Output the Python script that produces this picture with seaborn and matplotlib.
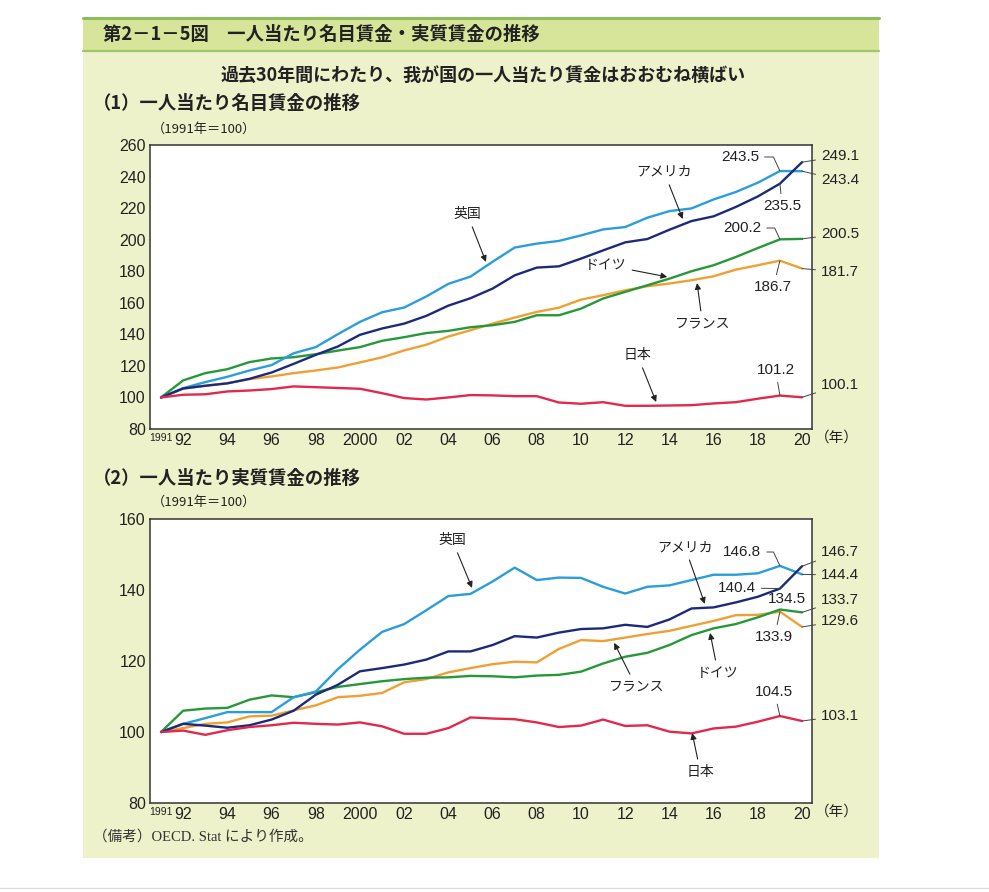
import matplotlib
matplotlib.use("Agg")
import matplotlib.pyplot as plt
from matplotlib.patches import Rectangle
from matplotlib.lines import Line2D
import seaborn as sns
import pandas as pd

# ---------------- data ----------------
years = list(range(1991, 2021))
countries = ["日本", "アメリカ", "英国", "ドイツ", "フランス"]

nominal_japan = [100, 101.7, 102, 103.8, 104.4, 105.3, 107, 106.5, 106, 105.5, 102.7, 99.6, 98.7, 100, 101.5,
                 101.3, 100.8, 100.8, 96.8, 96, 97, 94.7, 94.7, 94.9, 95.1, 96.2, 97, 99.2, 101.2, 100.1]
nominal_usa = [100, 105.7, 107.4, 108.9, 111.8, 115.8, 121.3, 127, 132.3, 139.7, 143.7, 146.8, 151.7, 158.2, 162.9,
               169, 177.4, 182.3, 183.1, 188, 193.2, 198.3, 200.4, 206.3, 211.8, 214.8, 220.7, 227.4, 235.5, 249.1]
nominal_uk = [100, 105.9, 109.7, 113.1, 117.1, 120.5, 128, 131.9, 140.1, 147.9, 154, 157, 164, 172, 176.6,
              186, 195, 197.5, 199.2, 202.7, 206.5, 208, 213.9, 218.1, 219.8, 225.5, 230.2, 236.1, 243.5, 243.4]
nominal_germany = [100, 110.8, 115.4, 117.9, 122.4, 124.7, 125.5, 127.4, 129.7, 131.9, 135.9, 138.2, 140.8, 142.2, 144.5,
                   145.8, 147.9, 152.1, 152.1, 156.3, 162.7, 166.9, 171.1, 175.3, 180, 183.8, 189, 194.7, 200.2, 200.5]
nominal_france = [100, 105.5, 107.4, 109.1, 111.6, 113.3, 115.4, 117.1, 119, 122.2, 125.4, 129.8, 133.4, 138.6, 142.6,
                  146.8, 150.6, 154.2, 156.9, 162, 164.8, 167.9, 170.5, 172.2, 174.3, 176.8, 181, 183.8, 186.7, 181.7]

real_japan = [100, 100.4, 99.2, 100.5, 101.4, 101.9, 102.6, 102.3, 102.1, 102.7, 101.6, 99.5, 99.5, 101.1, 104.1,
              103.8, 103.6, 102.7, 101.4, 101.8, 103.5, 101.7, 101.9, 100.1, 99.6, 101, 101.5, 102.9, 104.5, 103.1]
real_usa = [100, 102.3, 101.8, 101.2, 101.9, 103.5, 106, 110.5, 113.3, 117.1, 118, 119, 120.4, 122.7, 122.7,
            124.5, 127, 126.6, 128, 129, 129.2, 130.2, 129.6, 131.7, 134.8, 135.1, 136.5, 138.1, 140.4, 146.7]
real_uk = [100, 102.3, 103.9, 105.6, 105.6, 105.6, 109.8, 111.4, 117.7, 123.2, 128.2, 130.4, 134.3, 138.3, 138.9,
           142.4, 146.3, 142.8, 143.5, 143.4, 140.9, 139, 140.9, 141.3, 142.8, 144.3, 144.3, 144.7, 146.8, 144.4]
real_germany = [100, 106, 106.6, 106.8, 109.1, 110.3, 109.8, 111.2, 112.7, 113.5, 114.3, 114.9, 115.3, 115.4, 115.8,
                115.7, 115.4, 115.9, 116.1, 117, 119.3, 121.2, 122.3, 124.5, 127.3, 129.2, 130.4, 132.3, 134.5, 133.7]
real_france = [100, 101.1, 102.3, 102.7, 104.4, 104.6, 106.1, 107.5, 109.8, 110.2, 111, 114, 114.9, 116.8, 118,
               119.1, 119.8, 119.6, 123.4, 125.9, 125.6, 126.6, 127.6, 128.5, 129.9, 131.3, 132.9, 133, 133.9, 129.6]

xtick_pos = [1991, 1992, 1994, 1996, 1998, 2000, 2002, 2004, 2006, 2008, 2010, 2012, 2014, 2016, 2018, 2020]
xtick_labels = ["1991", "92", "94", "96", "98", "2000", "02", "04", "06", "08", "10", "12", "14", "16", "18", "20"]
yticks_nominal = [80, 100, 120, 140, 160, 180, 200, 220, 240, 260]
yticks_real = [80, 100, 120, 140, 160]

colors = {"日本": "#e2294b", "アメリカ": "#1b2a7a", "英国": "#2b9ddb", "ドイツ": "#27983a", "フランス": "#f0a033"}

def long_df(series):
    rows = []
    for c, vals in zip(countries, series):
        for y, v in zip(years, vals):
            rows.append({"year": y, "value": v, "country": c})
    return pd.DataFrame(rows)

df_nom = long_df([nominal_japan, nominal_usa, nominal_uk, nominal_germany, nominal_france])
df_real = long_df([real_japan, real_usa, real_uk, real_germany, real_france])

# ---------------- style ----------------
sns.set_theme(style="white")
plt.rcParams["font.family"] = ["Noto Sans CJK JP", "DejaVu Sans"]

W, H = 989, 892
fig = plt.figure(figsize=(W / 100, H / 100), dpi=100)
fig.patch.set_facecolor("white")

def fx(px):
    return px / W

def fy(py):
    return 1 - py / H

# background panels
fig.add_artist(Rectangle((fx(83), fy(858)), fx(879) - fx(83), fy(51) - fy(858), transform=fig.transFigure,
                         facecolor="#eef2cb", edgecolor="none", zorder=-10))
fig.add_artist(Rectangle((fx(83), fy(51)), fx(879) - fx(83), fy(17) - fy(51), transform=fig.transFigure,
                         facecolor="#d6e59a", edgecolor="none", zorder=-9))
fig.add_artist(Line2D([fx(83), fx(879)], [fy(17.5), fy(17.5)], transform=fig.transFigure, color="#8dbd5c", lw=2.2, zorder=-8))
fig.add_artist(Line2D([fx(83), fx(879)], [fy(50.5), fy(50.5)], transform=fig.transFigure, color="#9cc86a", lw=1.6, zorder=-8))
fig.add_artist(Line2D([0, 1], [fy(888), fy(888)], transform=fig.transFigure, color="#dcdcdc", lw=1.0, zorder=-8))

fig.text(fx(103), fy(34), "第2－1－5図　一人当たり名目賃金・実質賃金の推移", fontsize=13.2,
         fontweight="bold", va="center", ha="left", color="#222222")
fig.text(fx(483), fy(75), "過去30年間にわたり、我が国の一人当たり賃金はおおむね横ばい", fontsize=13,
         fontweight="bold", va="center", ha="center", color="#222222")
fig.text(fx(93), fy(103), "（1）一人当たり名目賃金の推移", fontsize=13.2, fontweight="bold",
         va="center", ha="left", color="#222222")
fig.text(fx(152), fy(129), "（1991年＝100）", fontsize=9.5, va="center", ha="left", color="#222222")
fig.text(fx(93), fy(478), "（2）一人当たり実質賃金の推移", fontsize=13.2, fontweight="bold",
         va="center", ha="left", color="#222222")
fig.text(fx(152), fy(502), "（1991年＝100）", fontsize=9.5, va="center", ha="left", color="#222222")
fig.text(fx(93), fy(837), "（備考）OECD. Stat により作成。", fontsize=10.5, va="center", ha="left",
         color="#333333", family=["Liberation Serif", "Noto Sans CJK JP"])

ax1 = fig.add_axes([fx(150), fy(429), fx(812) - fx(150), fy(145) - fy(429)])
ax2 = fig.add_axes([fx(150), fy(803), fx(812) - fx(150), fy(519) - fy(803)])

num_font = ["Liberation Sans", "DejaVu Sans"]

for ax, df, yt in [(ax1, df_nom, yticks_nominal), (ax2, df_real, yticks_real)]:
    sns.lineplot(data=df, x="year", y="value", hue="country", palette=colors, hue_order=countries[::-1],
                 linewidth=1.7, ax=ax, legend=False)
    ax.set_facecolor("white")
    ax.set_xlim(1990.5, 2020.45)
    ax.set_ylim(yt[0], yt[-1])
    ax.set_xlabel("")
    ax.set_ylabel("")
    ax.tick_params(axis="y", direction="in", length=4, width=0.9, pad=3, colors="#222222")
    ax.tick_params(axis="x", length=0, pad=3, colors="#222222")
    ax.set_yticks(yt)
    ax.set_yticklabels([str(v) for v in yt], family=num_font, fontsize=11.5)
    ax.set_xticks(xtick_pos)
    ax.set_xticklabels(xtick_labels, family=num_font, fontsize=11.5)
    first = ax.get_xticklabels()[0]
    first.set_fontsize(7.5)
    first.set_ha("center")
    for s in ax.spines.values():
        s.set_color("#333333")
        s.set_linewidth(1.1)
    ax.text(1.004, -0.032, "（年）", transform=ax.transAxes, fontsize=10.5, ha="left", va="center", color="#222222")

def name_arrow(ax, text, tip, pos):
    ax.annotate(text, xy=tip, xytext=pos, fontsize=10, ha="center", va="center", color="#222222",
                arrowprops=dict(arrowstyle="-|>", color="#222222", lw=0.8, mutation_scale=9,
                                shrinkA=2, shrinkB=0))

def value_label(ax, text, pt, pos, ha="center", conn="arc3"):
    ax.annotate(text, xy=pt, xytext=pos, fontsize=11, ha=ha, va="center", color="#222222",
                family=num_font, annotation_clip=False,
                arrowprops=dict(arrowstyle="-", color="#444444", lw=0.7, shrinkA=1.5, shrinkB=0,
                                connectionstyle=conn))

# panel 1 annotations
name_arrow(ax1, "英国", (2005.7, 185.9), (2004.85, 216.3))
name_arrow(ax1, "アメリカ", (2014.6, 213.1), (2013.76, 242.9))
name_arrow(ax1, "ドイツ", (2013.9, 176.4), (2011.1, 184.0))
name_arrow(ax1, "フランス", (2015.25, 172.5), (2015.5, 146.6))
name_arrow(ax1, "日本", (2013.4, 97.1), (2012.55, 126.9))

hook = "angle,angleA=0,angleB=115,rad=0"
value_label(ax1, "243.5", (2019, nominal_uk[-2]), (2017.2, 252.4), conn=hook)
value_label(ax1, "249.1", (2020, nominal_usa[-1]), (2020.85, 253.0), ha="left")
value_label(ax1, "243.4", (2020, nominal_uk[-1]), (2020.85, 237.8), ha="left")
value_label(ax1, "235.5", (2019, nominal_usa[-2]), (2019.1, 221.3))
value_label(ax1, "200.2", (2019, nominal_germany[-2]), (2017.3, 207.4), conn=hook)
value_label(ax1, "200.5", (2020, nominal_germany[-1]), (2020.85, 203.6), ha="left")
value_label(ax1, "186.7", (2019, nominal_france[-2]), (2018.7, 170.0))
value_label(ax1, "181.7", (2020, nominal_france[-1]), (2020.85, 179.5), ha="left")
value_label(ax1, "101.2", (2019, nominal_japan[-2]), (2018.8, 117.4))
value_label(ax1, "100.1", (2020, nominal_japan[-1]), (2020.85, 107.9), ha="left")

# panel 2 annotations
name_arrow(ax2, "英国", (2005.07, 140.6), (2004.17, 154.1))
name_arrow(ax2, "アメリカ", (2015.6, 136.1), (2014.7, 152.1))
name_arrow(ax2, "フランス", (2011.5, 125.1), (2012.5, 112.7))
name_arrow(ax2, "ドイツ", (2015.84, 127.9), (2016.2, 116.6))
name_arrow(ax2, "日本", (2015.03, 99.7), (2015.4, 88.7))

value_label(ax2, "146.8", (2019, real_uk[-2]), (2017.3, 150.7), conn=hook)
value_label(ax2, "146.7", (2020, real_usa[-1]), (2020.85, 150.7), ha="left")
value_label(ax2, "144.4", (2020, real_uk[-1]), (2020.85, 144.2), ha="left")
value_label(ax2, "140.4", (2019, real_usa[-2]), (2017.05, 140.6))
value_label(ax2, "134.5", (2019, real_germany[-2]), (2019.3, 137.4))
value_label(ax2, "133.7", (2020, real_germany[-1]), (2020.85, 137.2), ha="left")
value_label(ax2, "133.9", (2019, real_france[-2]), (2018.75, 126.8))
value_label(ax2, "129.6", (2020, real_france[-1]), (2020.85, 131.3), ha="left")
value_label(ax2, "104.5", (2019, real_japan[-2]), (2018.75, 111.3))
value_label(ax2, "103.1", (2020, real_japan[-1]), (2020.85, 104.5), ha="left")

fig.savefig("out.png", dpi=100)
